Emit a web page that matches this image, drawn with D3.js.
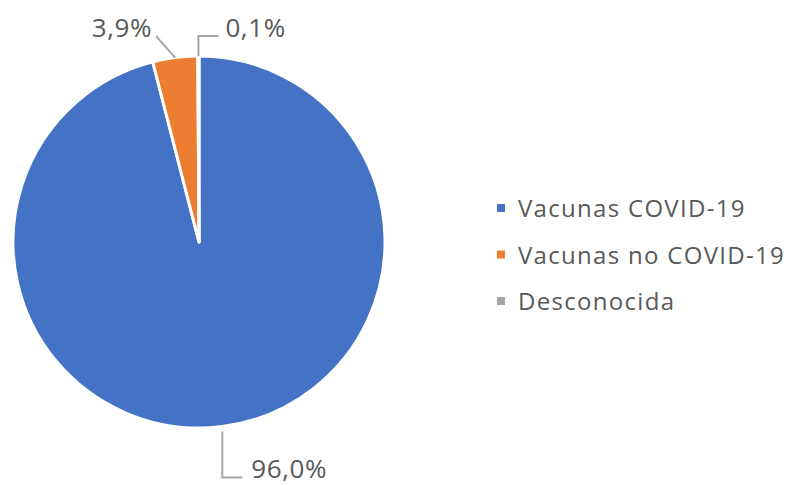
<!DOCTYPE html>
<html>
<head>
<meta charset="utf-8">
<script src="https://cdn.jsdelivr.net/npm/d3@7"></script>
<style>
  body { margin: 0; background: #fff; }
  text { font-family: "Open Sans", "Liberation Sans", sans-serif; fill: #595959; }
</style>
</head>
<body>
<div id="chart"></div>
<script>
// data
var categories = ["Vacunas COVID-19", "Vacunas no COVID-19", "Desconocida"];
var values = [96.0, 3.9, 0.1];
var valueLabels = ["96,0%", "3,9%", "0,1%"];
var colors = ["#4472C4", "#ED7D31", "#A5A5A5"];

var width = 792, height = 485;
var cx = 199, cy = 242, radius = 186;

var svg = d3.select("#chart")
    .append("svg")
    .attr("width", width)
    .attr("height", height);

var pie = d3.pie().sort(null).value(function (d) { return d; });
var arcs = pie(values);

var arc = d3.arc().innerRadius(0).outerRadius(radius);

var g = svg.append("g")
    .attr("transform", "translate(" + cx + "," + cy + ")");

g.selectAll("path")
    .data(arcs)
    .enter().append("path")
    .attr("d", arc)
    .attr("fill", function (d, i) { return colors[i]; })
    .attr("stroke", "#fff")
    .attr("stroke-width", 3)
    .attr("stroke-linejoin", "round");

// leader lines + labels (elbow offsets relative to arc edge point)
var labelLayout = [
    { gap: 5, dx: 0, dy: 51, hx: 20, anchor: "start", tx: 9, ty: 0 },    // 96,0%
    { gap: 0, dx: -19, dy: -21.5, hx: 0, anchor: "end", tx: -4, ty: 1 }, // 3,9%
    { gap: 0, dx: 0, dy: -20, hx: 20, anchor: "start", tx: 7, ty: 1 }    // 0,1%
];

arcs.forEach(function (d, i) {
    var a = (d.startAngle + d.endAngle) / 2;
    var x0 = Math.sin(a) * radius, y0 = -Math.cos(a) * radius;
    var L = labelLayout[i];
    var x1 = x0 + L.dx, y1 = y0 + L.dy;
    var x2 = x1 + L.hx;
    var ys = y0 + (y0 > 0 ? L.gap : -L.gap);
    g.append("polyline")
        .attr("points", [[x0, ys], [x1, y1], [x2, y1]].map(function (p) { return p.join(","); }).join(" "))
        .attr("fill", "none")
        .attr("stroke", "#A6A6A6")
        .attr("stroke-width", 2);
    g.append("text")
        .attr("x", x2 + L.tx)
        .attr("y", y1 + L.ty)
        .attr("text-anchor", L.anchor)
        .attr("font-size", 26)
        .attr("letter-spacing", 0.6)
        .text(valueLabels[i]);
});

// legend
var legend = svg.append("g")
    .attr("transform", "translate(497,208)");

var row = legend.selectAll("g")
    .data(categories)
    .enter().append("g")
    .attr("transform", function (d, i) { return "translate(0," + (i * 46.5) + ")"; });

row.append("rect")
    .attr("x", 0).attr("y", -4)
    .attr("width", 8).attr("height", 8)
    .attr("fill", function (d, i) { return colors[i]; });

row.append("text")
    .attr("x", 21)
    .attr("y", 9)
    .attr("font-size", 24)
    .attr("letter-spacing", 1.3)
    .text(function (d) { return d; });
</script>
</body>
</html>
